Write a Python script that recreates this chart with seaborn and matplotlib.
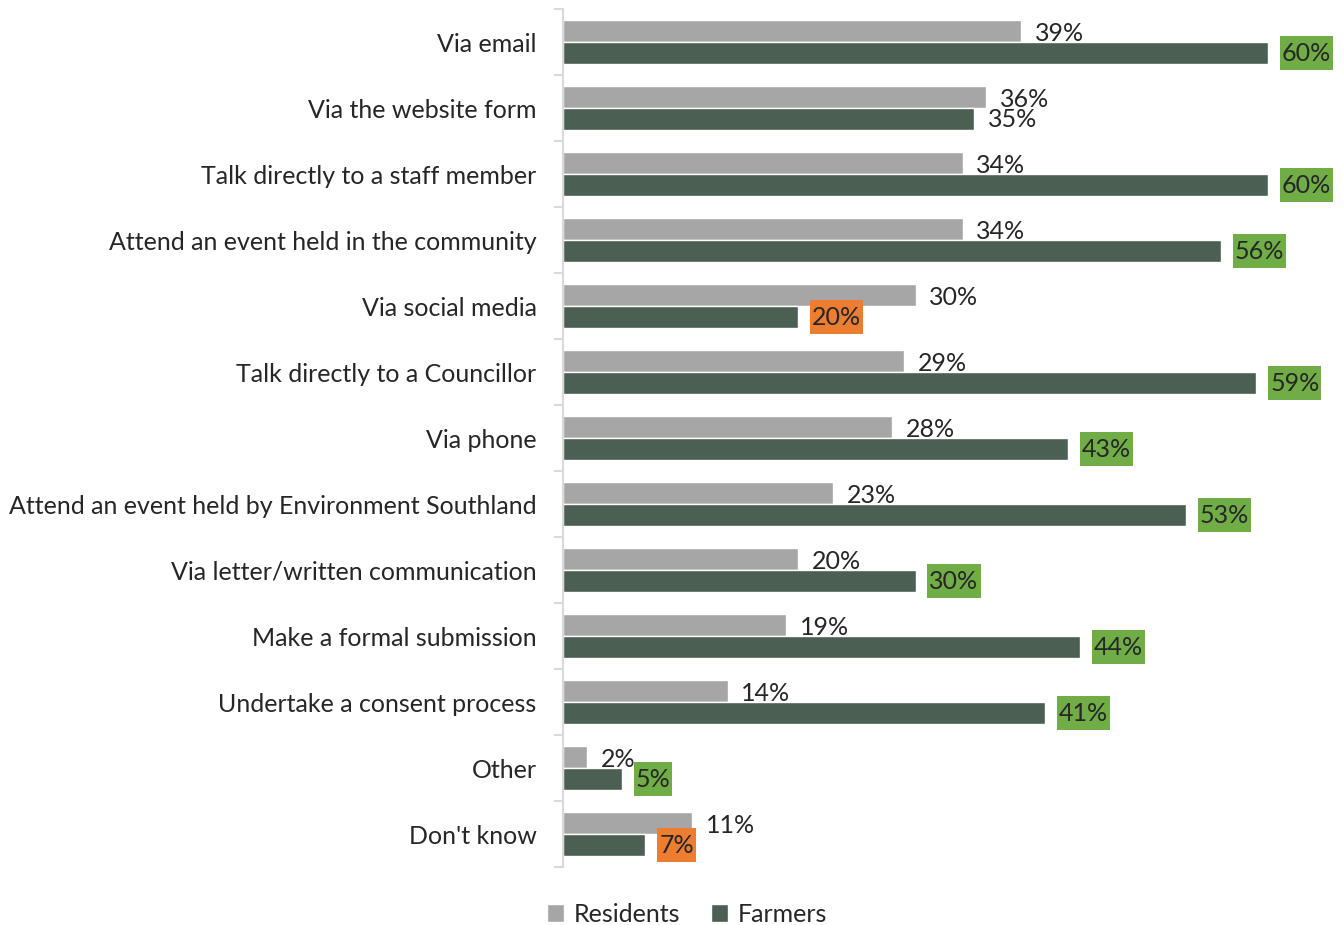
import matplotlib
matplotlib.use("Agg")
import matplotlib.pyplot as plt
from matplotlib.patches import Patch, Rectangle
import seaborn as sns
import pandas as pd
import numpy as np

categories = [
    "Via email",
    "Via the website form",
    "Talk directly to a staff member",
    "Attend an event held in the community",
    "Via social media",
    "Talk directly to a Councillor",
    "Via phone",
    "Attend an event held by Environment Southland",
    "Via letter/written communication",
    "Make a formal submission",
    "Undertake a consent process",
    "Other",
    "Don't know",
]
residents = [39, 36, 34, 34, 30, 29, 28, 23, 20, 19, 14, 2, 11]
farmers = [60, 35, 60, 56, 20, 59, 43, 53, 30, 44, 41, 5, 7]
# significance flag for farmers vs residents: +1 higher, -1 lower, 0 none
farmer_flags = [1, 0, 1, 1, -1, 1, 1, 1, 1, 1, 1, 1, -1]
groups = ["Residents", "Farmers"]

grey = "#a6a6a6"
dark = "#4b5f52"
hi_green = "#70ad47"
hi_orange = "#ed7d31"
text_col = "#262626"
FS = 18

sns.set_theme(style="white")
plt.rcParams["font.family"] = ["Lato", "DejaVu Sans"]

df = pd.DataFrame({
    "category": categories * 2,
    "value": residents + farmers,
    "group": [groups[0]] * len(categories) + [groups[1]] * len(categories),
})

fig = plt.figure(figsize=(13.44, 9.25), dpi=100)
ax = fig.add_axes([563 / 1344, 1 - 867 / 925, (1330 - 563) / 1344, (867 - 9) / 925])

sns.barplot(data=df, y="category", x="value", hue="group", orient="h",
            order=categories, hue_order=groups, palette=[grey, dark],
            width=2 / 3, gap=0, ax=ax, legend=False, saturation=1)

ax.set_xlim(0, (1330 - 563) / 11.75)
ax.set_ylim(len(categories) - 0.5, -0.5)
ax.set_xlabel("")
ax.set_ylabel("")
ax.set_xticks([])

for s in ["top", "right", "bottom"]:
    ax.spines[s].set_visible(False)
ax.spines["left"].set_color("#d9d9d9")
ax.spines["left"].set_linewidth(1.5)

ax.set_yticks(range(len(categories)))
ax.set_yticklabels(categories, fontsize=FS, color=text_col)
ax.tick_params(axis="y", which="major", length=0, pad=19)
ax.set_yticks(np.arange(-0.5, len(categories), 1), minor=True)
ax.tick_params(axis="y", which="minor", length=6.5, width=1.5, color="#d9d9d9", left=True)

# value labels
farmer_texts = []
for i, (r, f) in enumerate(zip(residents, farmers)):
    ax.annotate(f"{r}%", xy=(r, i - 1 / 6), xytext=(10, -1.5), textcoords="offset points",
                ha="left", va="center", fontsize=FS, color=text_col)
    t = ax.annotate(f"{f}%", xy=(f, i + 1 / 6), xytext=(10, -0.5), textcoords="offset points",
                    ha="left", va="center", fontsize=FS, color=text_col, zorder=5)
    farmer_texts.append(t)

# highlight boxes behind farmer labels that differ from residents
fig.canvas.draw()
renderer = fig.canvas.get_renderer()
inv = ax.transData.inverted()
for i, (t, flag) in enumerate(zip(farmer_texts, farmer_flags)):
    if flag == 0:
        continue
    ext = t.get_window_extent(renderer)
    x0 = inv.transform((ext.x0 - 2, 0))[0]
    x1 = inv.transform((ext.x1 + 2, 0))[0]
    h = 34 / 66
    ax.add_patch(Rectangle((x0, i + 1 / 6 - h / 2), x1 - x0, h,
                           facecolor=hi_green if flag > 0 else hi_orange,
                           edgecolor="none", zorder=4, clip_on=False))

handles = [Patch(facecolor=grey, label="Residents"), Patch(facecolor=dark, label="Farmers")]
fig.legend(handles=handles, loc="center", bbox_to_anchor=(687 / 1344, 1 - 914 / 925),
           ncol=2, frameon=False, prop={"size": FS},
           handlelength=0.7, handleheight=0.7, handletextpad=0.4, columnspacing=1.2,
           labelcolor=text_col)

fig.savefig("out.png", dpi=100)
